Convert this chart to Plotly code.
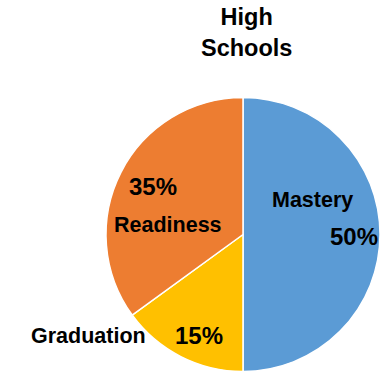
import plotly.graph_objects as go

categories = ["Mastery", "Graduation", "Readiness"]
values = [50, 15, 35]
colors = ["#5B9BD5", "#FFC000", "#ED7D31"]
title_text = "High<br>Schools"

W, H = 380, 375
FONT = "Liberation Sans, Arial, sans-serif"

fig = go.Figure(go.Pie(
    labels=categories,
    values=values,
    sort=False,
    direction="clockwise",
    rotation=0,
    marker=dict(colors=colors, line=dict(color="white", width=1.5)),
    textinfo="none",
    hoverinfo="label+percent",
    showlegend=False,
    domain=dict(x=[106 / W, 1.0], y=[1 - 374 / H, 1 - 95 / H]),
))

def px(x, y):
    return x / W, 1 - y / H

# label placements (pixel centres)
name_pos = {"Mastery": (312, 200), "Graduation": (88, 336), "Readiness": (168, 225)}
pct_pos = {"Mastery": (354, 236), "Graduation": (199, 335), "Readiness": (153, 186)}

annotations = []
for cat, val in zip(categories, values):
    x, y = px(*name_pos[cat])
    annotations.append(dict(x=x, y=y, xref="paper", yref="paper", text=f"<b>{cat}</b>",
                            showarrow=False, xanchor="center", yanchor="middle",
                            font=dict(family=FONT, size=21.5, color="#000000")))
    x, y = px(*pct_pos[cat])
    annotations.append(dict(x=x, y=y, xref="paper", yref="paper", text=f"<b>{val}%</b>",
                            showarrow=False, xanchor="center", yanchor="middle",
                            font=dict(family=FONT, size=24, color="#000000")))

tx, ty = px(246, 32)
annotations.append(dict(x=tx, y=ty, xref="paper", yref="paper", text=f"<b>{title_text}</b>",
                        showarrow=False, xanchor="center", yanchor="middle",
                        font=dict(family=FONT, size=23.5, color="#000000")))

fig.update_layout(
    width=W, height=H, autosize=False,
    margin=dict(l=0, r=0, t=0, b=0),
    paper_bgcolor="white", plot_bgcolor="white",
    annotations=annotations,
)

fig.write_html("out.html")
